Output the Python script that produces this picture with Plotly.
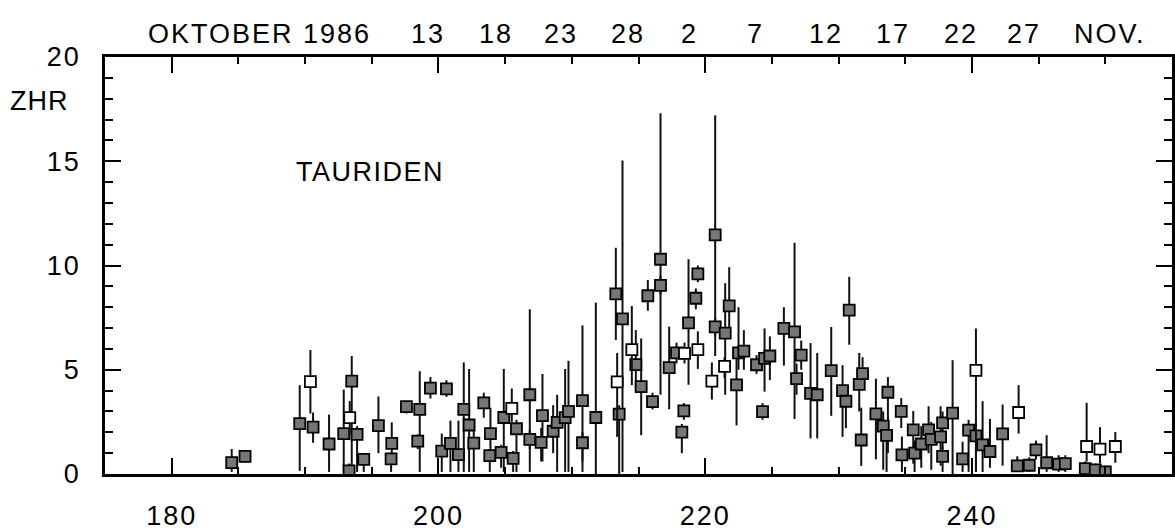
import plotly.graph_objects as go

# Solar longitude (deg), ZHR, lower/upper error limits, open (1) / filled (0)
lam = [184.5, 185.5, 189.6, 190.4, 190.6, 191.8, 192.9, 193.3, 193.35, 193.5,
       193.9, 194.4, 195.5, 196.5, 196.45, 197.6, 198.6, 198.45, 199.4, 200.6,
       200.25, 200.9, 201.5, 201.9, 202.3, 202.65, 203.4, 203.9, 203.85, 204.7,
       204.9, 205.5, 205.85, 205.6, 206.85, 206.85, 207.7, 207.8, 208.6, 208.9,
       209.5, 209.75, 210.8, 210.8, 211.8, 213.3, 213.4, 213.55, 213.8, 214.5,
       214.8, 215.2, 215.7, 216.05, 216.65, 216.65, 217.3, 217.85, 218.45, 218.4,
       218.25, 218.75, 219.3, 219.45, 219.45, 220.5, 220.75, 220.75, 221.5, 221.8,
       221.45, 222.35, 222.5, 222.9, 223.85, 224.3, 224.45, 224.85, 225.9, 226.7,
       226.85, 227.2, 227.9, 228.4, 229.45, 230.3, 230.55, 230.8, 231.55, 231.8,
       231.7, 232.8, 233.35, 233.6, 233.7, 234.7, 234.75, 235.6, 235.7, 236.2,
       236.75, 236.95, 237.65, 237.8, 237.8, 238.55, 239.3, 239.75, 240.3, 240.3,
       240.8, 241.35, 242.3, 243.5, 243.4, 244.3, 244.8, 245.6, 246.5, 247.0,
       248.5, 248.6, 249.25, 249.6, 250.0, 250.75]
zhr = [0.55, 0.85, 2.42, 4.43, 2.25, 1.44, 1.94, 0.15, 2.7, 4.45,
       1.9, 0.7, 2.32, 1.47, 0.73, 3.23, 3.1, 1.58, 4.12, 4.08,
       1.1, 1.47, 0.93, 3.1, 2.35, 1.48, 3.41, 1.94, 0.88, 1.04,
       2.71, 3.15, 2.17, 0.75, 3.8, 1.66, 1.52, 2.8, 2.05, 2.48,
       2.7, 3.0, 3.52, 1.5, 2.71, 8.64, 4.42, 2.87, 7.44, 5.97,
       5.25, 4.19, 8.55, 3.47, 10.3, 9.05, 5.1, 5.81, 5.79, 3.03,
       2.01, 7.25, 8.43, 9.6, 5.97, 4.45, 11.47, 7.06, 6.76, 8.06,
       5.16, 4.27, 5.81, 5.89, 5.24, 2.99, 5.55, 5.66, 6.98, 6.82,
       4.57, 5.7, 3.87, 3.8, 4.96, 4.0, 3.49, 7.86, 4.3, 4.81,
       1.63, 2.88, 2.3, 1.85, 3.92, 3.0, 0.92, 2.12, 1.0, 1.44,
       2.12, 1.66, 1.78, 2.45, 0.85, 2.92, 0.73, 2.1, 4.97, 1.83,
       1.4, 1.08, 1.92, 2.95, 0.39, 0.42, 1.16, 0.54, 0.47, 0.5,
       0.26, 1.32, 0.2, 1.19, 0.1, 1.32]
zhr_lo = [0.1, 0.55, 0.15, 2.9, 1.5, 0.1, 0.1, 0.0, 1.9, 0.1,
          0.1, 0.1, 1.0, 1.0, 0.1, 2.9, 0.1, 1.2, 3.62, 3.7,
          0.1, 0.1, 0.1, 0.1, 0.1, 0.1, 2.7, 1.0, 0.1, 0.3,
          0.1, 2.5, 0.1, 0.1, 0.1, 1.2, 0.6, 0.6, 1.0, 0.1,
          0.1, 0.1, 0.1, 0.6, 0.0, 6.43, 1.78, 0.0, 0.1, 4.26,
          3.95, 1.86, 7.83, 3.1, 3.8, 8.6, 3.1, 5.3, 5.3, 2.6,
          1.0, 4.28, 7.9, 9.2, 5.04, 3.57, 5.66, 6.6, 3.8, 6.74,
          4.6, 2.33, 5.0, 5.0, 4.8, 2.6, 3.95, 4.5, 5.2, 2.64,
          3.8, 5.0, 1.71, 1.71, 2.79, 1.78, 2.2, 6.2, 3.0, 4.3,
          0.39, 0.7, 0.2, 0.1, 1.0, 2.2, 0.1, 0.5, 0.1, 0.3,
          1.0, 0.2, 0.4, 1.2, 0.1, 0.0, 0.1, 0.1, 0.1, 0.1,
          0.1, 0.3, 0.4, 1.94, 0.1, 0.1, 0.7, 0.1, 0.1, 0.1,
          0.05, 0.6, 0.05, 0.5, 0.0, 0.54]
zhr_hi = [1.2, 1.1, 4.26, 5.95, 2.95, 2.85, 4.05, 0.5, 3.5, 5.66,
          2.3, 1.0, 3.72, 2.48, 1.0, 3.5, 4.93, 1.9, 4.65, 4.5,
          1.94, 2.56, 2.56, 5.35, 5.04, 2.1, 3.9, 3.18, 1.2, 1.4,
          5.04, 4.1, 2.6, 1.1, 7.9, 2.1, 2.2, 4.8, 3.3, 3.8,
          5.04, 5.43, 7.13, 2.0, 8.22, 10.85, 5.8, 3.3, 15.04, 8.06,
          6.9, 6.5, 9.3, 3.9, 17.3, 9.5, 7.07, 6.3, 6.3, 3.4,
          2.4, 10.3, 8.9, 10.0, 6.84, 5.35, 17.2, 7.5, 9.15, 9.92,
          5.6, 5.81, 8.0, 6.9, 5.7, 3.4, 6.98, 6.6, 8.0, 11.09,
          5.3, 6.4, 6.28, 5.8, 7.05, 5.22, 4.0, 9.46, 5.81, 5.6,
          3.18, 4.57, 3.0, 2.5, 4.65, 3.64, 1.8, 3.02, 1.6, 2.3,
          3.25, 2.5, 3.25, 3.0, 1.3, 5.46, 1.55, 2.6, 6.98, 2.5,
          3.49, 2.64, 3.33, 4.26, 0.85, 0.8, 1.6, 1.86, 0.9, 0.9,
          0.6, 3.41, 0.5, 2.25, 0.4, 2.01]
is_open = [0, 0, 0, 1, 0, 0, 0, 0, 1, 0,
           0, 0, 0, 0, 0, 0, 0, 0, 0, 0,
           0, 0, 0, 0, 0, 0, 0, 0, 0, 0,
           0, 1, 0, 0, 0, 0, 0, 0, 0, 0,
           0, 0, 0, 0, 0, 0, 1, 0, 0, 1,
           0, 0, 0, 0, 0, 0, 0, 0, 1, 0,
           0, 0, 0, 0, 1, 1, 0, 0, 0, 0,
           1, 0, 0, 0, 0, 0, 0, 0, 0, 0,
           0, 0, 0, 0, 0, 0, 0, 0, 0, 0,
           0, 0, 0, 0, 0, 0, 0, 0, 0, 0,
           0, 0, 0, 0, 0, 0, 0, 0, 1, 0,
           0, 0, 0, 1, 0, 0, 0, 0, 0, 0,
           0, 1, 0, 1, 0, 1]

# Axis tick labels
x_ticks = [180, 200, 220, 240]
y_ticks = [0, 5, 10, 15, 20]

# Date labels along the top (solar longitude positions)
date_text = ["OKTOBER 1986", "13", "18", "23", "28", "2", "7", "12", "17", "22", "27", "NOV."]
date_lam = [186.6, 199.2, 204.3, 209.2, 214.2, 218.8, 223.8, 229.05, 234.05, 239.2, 243.9, 250.35]

FONT = "Liberation Sans, Arial, sans-serif"


def spaced(t, px=1.5):
    return '<span style="letter-spacing:%spx">%s</span>' % (px, t)


def subset(flag):
    idx = [i for i in range(len(lam)) if is_open[i] == flag]
    xs = [lam[i] for i in idx]
    ys = [zhr[i] for i in idx]
    up = [zhr_hi[i] - zhr[i] for i in idx]
    dn = [zhr[i] - zhr_lo[i] for i in idx]
    return xs, ys, up, dn


fig = go.Figure()
for flag, fill in [(0, "#767676"), (1, "#ffffff")]:
    xs, ys, up, dn = subset(flag)
    fig.add_trace(go.Scatter(
        x=xs, y=ys, mode="markers",
        marker=dict(symbol="square", size=11, color=fill,
                    line=dict(color="#000000", width=1.8)),
        error_y=dict(type="data", symmetric=False, array=up, arrayminus=dn,
                     width=0, thickness=2, color="#111111"),
        showlegend=False, cliponaxis=True,
    ))

annotations = []
for t, xv in zip(date_text, date_lam):
    annotations.append(dict(x=xv, y=1.056, xref="x", yref="paper", text=spaced(t, 2),
                            showarrow=False, xanchor="center", yanchor="middle",
                            font=dict(family=FONT, size=27, color="#000")))
annotations.append(dict(x=-0.0907, y=0.895, xref="paper", yref="paper", text=spaced("ZHR", 1),
                        showarrow=False, xanchor="left", yanchor="middle",
                        font=dict(family=FONT, size=27, color="#000")))
annotations.append(dict(x=189.2, y=14.5, xref="x", yref="y", text=spaced("TAURIDEN", 1.5),
                        showarrow=False, xanchor="left", yanchor="middle",
                        font=dict(family=FONT, size=27, color="#000")))

fig.update_layout(
    width=1175, height=531,
    margin=dict(l=105, r=0, t=57, b=46),
    paper_bgcolor="white", plot_bgcolor="white",
    font=dict(family=FONT, size=27, color="#000"),
    annotations=annotations,
    xaxis=dict(range=[175, 255], tickvals=x_ticks,
               ticktext=[spaced(str(v), 2) for v in x_ticks],
               ticks="inside", ticklen=16, tickwidth=2, tickcolor="#000",
               showline=True, linewidth=2.5, linecolor="#000", mirror="ticks",
               showgrid=False, zeroline=False,
               minor=dict(dtick=5, tick0=175, ticks="inside", ticklen=7,
                          tickwidth=2, tickcolor="#000", showgrid=False),
               tickfont=dict(family=FONT, size=27), ticklabelstandoff=16),
    yaxis=dict(range=[0, 20], tickvals=y_ticks,
               ticktext=[spaced(str(v), 2) for v in y_ticks],
               ticks="inside", ticklen=16, tickwidth=2, tickcolor="#000",
               showline=True, linewidth=2.5, linecolor="#000", mirror="ticks",
               showgrid=False, zeroline=False,
               minor=dict(dtick=1, ticks="inside", ticklen=8,
                          tickwidth=2, tickcolor="#000", showgrid=False),
               tickfont=dict(family=FONT, size=27), ticklabelstandoff=16),
)

fig.write_html("out.html")
